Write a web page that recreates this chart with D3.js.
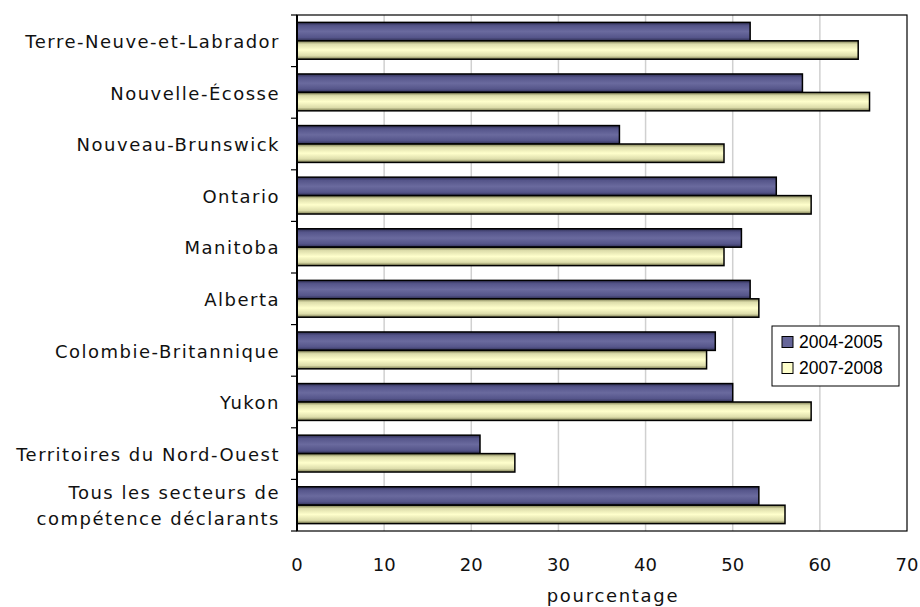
<!DOCTYPE html>
<html>
<head>
<meta charset="utf-8">
<script src="https://cdn.jsdelivr.net/npm/d3@7"></script>
<style>
  body { margin: 0; background: #fff; }
</style>
</head>
<body>
<div id="chart"></div>
<script>
const categories = [
    ["Terre-Neuve-et-Labrador"],
    ["Nouvelle-Écosse"],
    ["Nouveau-Brunswick"],
    ["Ontario"],
    ["Manitoba"],
    ["Alberta"],
    ["Colombie-Britannique"],
    ["Yukon"],
    ["Territoires du Nord-Ouest"],
    ["Tous les secteurs de", "compétence déclarants"]
];
const seriesNames = ["2004-2005", "2007-2008"];
const values2004 = [52, 58, 37, 55, 51, 52, 48, 50, 21, 53];
const values2007 = [64.4, 65.7, 49, 59, 49, 53, 47, 59, 25, 56];
const xTicks = [0, 10, 20, 30, 40, 50, 60, 70];

const width = 920, height = 607;
const margin = { top: 15, right: 13, bottom: 76, left: 297 };

const svg = d3.select("#chart").append("svg")
    .attr("width", width)
    .attr("height", height);

const catKeys = categories.map(d => d.join(" "));
const x = d3.scaleLinear().domain([0, 70]).range([margin.left, width - margin.right]);
const y0 = d3.scaleBand().domain(catKeys).range([margin.top, height - margin.bottom]).padding(0);
const y1 = d3.scaleBand().domain(seriesNames).range([0, y0.bandwidth()]).paddingInner(0).paddingOuter(0.4);

// bar gradients
const defs = svg.append("defs");
const grads = [
    { id: "gBlue", stops: ["#2e2e52", "#55558a", "#6a6a9e", "#55558a", "#2e2e52"] },
    { id: "gYellow", stops: ["#76764c", "#dcdcaa", "#ffffcc", "#dcdcaa", "#76764c"] }
];
grads.forEach(g => {
    const lg = defs.append("linearGradient").attr("id", g.id)
        .attr("x1", "0%").attr("y1", "0%").attr("x2", "0%").attr("y2", "100%");
    [0, 18, 50, 82, 100].forEach((o, i) => {
        lg.append("stop").attr("offset", o + "%").attr("stop-color", g.stops[i]);
    });
});

// gridlines
svg.append("g")
    .selectAll("line")
    .data(xTicks.slice(1, -1))
    .enter().append("line")
    .attr("x1", d => x(d)).attr("x2", d => x(d))
    .attr("y1", margin.top).attr("y2", height - margin.bottom)
    .attr("stroke", "#d0d0d0")
    .attr("stroke-width", 1.5);

// plot border
svg.append("rect")
    .attr("x", margin.left).attr("y", margin.top)
    .attr("width", width - margin.right - margin.left)
    .attr("height", height - margin.bottom - margin.top)
    .attr("fill", "none")
    .attr("stroke", "#000")
    .attr("stroke-width", 1.2);

// bars
const rows = catKeys.map((k, i) => ({ key: k, vals: [values2004[i], values2007[i]] }));
const fills = ["url(#gBlue)", "url(#gYellow)"];

svg.append("g")
    .selectAll("g")
    .data(rows)
    .enter().append("g")
    .attr("transform", d => `translate(0,${y0(d.key)})`)
    .selectAll("rect")
    .data(d => d.vals.map((v, i) => ({ s: seriesNames[i], v: v, i: i })))
    .enter().append("rect")
    .attr("x", x(0))
    .attr("y", d => y1(d.s))
    .attr("width", d => x(d.v) - x(0))
    .attr("height", y1.bandwidth())
    .attr("fill", d => fills[d.i])
    .attr("stroke", "#000")
    .attr("stroke-width", 1.5);

// left axis with ticks at band boundaries
const yAxisG = svg.append("g");
yAxisG.append("line")
    .attr("x1", margin.left).attr("x2", margin.left)
    .attr("y1", margin.top).attr("y2", height - margin.bottom)
    .attr("stroke", "#000").attr("stroke-width", 2);
yAxisG.selectAll(".btick")
    .data(catKeys.map(k => y0(k)).concat([height - margin.bottom]))
    .enter().append("line")
    .attr("x1", margin.left - 6).attr("x2", margin.left)
    .attr("y1", d => d).attr("y2", d => d)
    .attr("stroke", "#000").attr("stroke-width", 1.2);

// category labels
const labelFont = "'DejaVu Sans', Verdana, sans-serif";
const labelX = 280;
svg.append("g")
    .selectAll("text")
    .data(categories)
    .enter().append("text")
    .attr("x", labelX)
    .attr("y", (d, i) => y0(catKeys[i]) + y0.bandwidth() / 2)
    .attr("text-anchor", "end")
    .style("font-family", labelFont)
    .style("font-size", "18px")
    .style("letter-spacing", "1.5px")
    .attr("fill", "#111")
    .each(function (d) {
        const t = d3.select(this);
        const n = d.length;
        d.forEach((line, j) => {
            t.append("tspan")
                .attr("x", labelX)
                .attr("dy", j === 0 ? (0.4 - (n - 1) * 0.725) + "em" : "1.45em")
                .text(line);
        });
    });

// x axis tick labels
svg.append("g")
    .selectAll("text")
    .data(xTicks)
    .enter().append("text")
    .attr("x", d => x(d))
    .attr("y", 571)
    .attr("text-anchor", "middle")
    .style("font-family", labelFont)
    .style("font-size", "18px")
    .attr("fill", "#111")
    .text(d => d);

svg.append("text")
    .attr("x", 613)
    .attr("y", 602)
    .attr("text-anchor", "middle")
    .style("font-family", labelFont)
    .style("font-size", "18px")
    .style("letter-spacing", "1.7px")
    .attr("fill", "#111")
    .text("pourcentage");

// legend
const legend = svg.append("g").attr("transform", "translate(772,326)");
legend.append("rect")
    .attr("width", 127).attr("height", 60)
    .attr("fill", "#fff").attr("stroke", "#000").attr("stroke-width", 1);
const legendColors = ["#666699", "#ffffcc"];
seriesNames.forEach((s, i) => {
    const row = legend.append("g").attr("transform", `translate(10,${16 + i * 26})`);
    row.append("rect")
        .attr("x", 0).attr("y", -5.5)
        .attr("width", 11).attr("height", 11)
        .attr("fill", legendColors[i])
        .attr("stroke", "#000").attr("stroke-width", 1);
    row.append("text")
        .attr("x", 17).attr("y", 0).attr("dy", "0.36em")
        .style("font-family", "'Liberation Sans', Arial, sans-serif")
        .style("font-size", "17.5px")
        .attr("fill", "#000")
        .text(s);
});
</script>
</body>
</html>
